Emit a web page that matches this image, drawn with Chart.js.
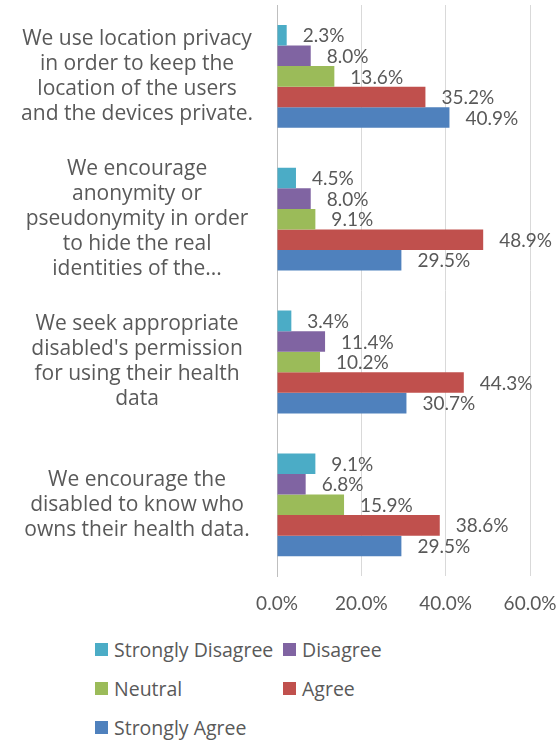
<!DOCTYPE html>
<html lang="en">
<head>
  <meta charset="UTF-8" />
  <title>Privacy practices survey</title>
  <script src="https://cdn.jsdelivr.net/npm/chart.js"></script>
  <style>
    * { box-sizing: border-box; }
    body { margin: 0; background: #fff; font-family: 'Open Sans', sans-serif; }
    .wrap { position: relative; width: 559px; height: 740px; }
    #chart { position: absolute; top: 0; left: 0; }
    .legend {
      position: absolute;
      top: 637px; left: 95px;
      display: grid;
      grid-template-columns: 188px auto;
      row-gap: 15px;
      color: #595959;
      font-size: 19.5px;
    }
    .legend span { display: flex; align-items: center; height: 24px; white-space: nowrap; }
    .legend i { display: inline-block; width: 13px; height: 13px; margin-right: 6px; }
  </style>
</head>
<body>
  <div class="wrap">
    <canvas id="chart" width="559" height="631"></canvas>
    <div class="legend" id="legend"></div>
  </div>

  <script>
    // statements (wrapped like the original)
    const statements = [
      ['We use location privacy', 'in order to keep the', 'location of the users', 'and the devices private.'],
      ['We encourage', 'anonymity or', 'pseudonymity in order', 'to hide the real', 'identities of the...'],
      ["We seek appropriate", "disabled's permission", 'for using their health', 'data'],
      ['We encourage the', 'disabled to know who', 'owns their health data.']
    ];
    const seriesNames = ['Strongly Disagree', 'Disagree', 'Neutral', 'Agree', 'Strongly Agree'];
    const seriesColors = ['#4BACC6', '#8064A2', '#9BBB59', '#C0504D', '#4F81BD'];

    // percent per statement
    const stronglyDisagree = [2.3, 4.5, 3.4, 9.1];
    const disagree = [8.0, 8.0, 11.4, 6.8];
    const neutral = [13.6, 9.1, 10.2, 15.9];
    const agree = [35.2, 48.9, 44.3, 38.6];
    const stronglyAgree = [40.9, 29.5, 30.7, 29.5];
    const xTicks = [0, 20, 40, 60];

    const values = [stronglyDisagree, disagree, neutral, agree, stronglyAgree];
    const textColor = '#595959';

    // value labels just past the bar ends
    const barLabels = {
      id: 'barLabels',
      afterDatasetsDraw(chart) {
        const ctx = chart.ctx;
        ctx.save();
        ctx.font = '19px Lato, sans-serif';
        ctx.fillStyle = textColor;
        ctx.textAlign = 'left';
        ctx.textBaseline = 'middle';
        chart.data.datasets.forEach((ds, i) => {
          chart.getDatasetMeta(i).data.forEach((bar, j) => {
            ctx.fillText(ds.data[j].toFixed(1) + '%', bar.x + 16, bar.y + 1);
          });
        });
        ctx.restore();
      }
    };

    new Chart(document.getElementById('chart'), {
      type: 'bar',
      data: {
        labels: statements,
        datasets: seriesNames.map((name, i) => ({
          label: name,
          data: values[i],
          backgroundColor: seriesColors[i],
          categoryPercentage: 0.72,
          barPercentage: 1
        }))
      },
      options: {
        indexAxis: 'y',
        responsive: false,
        animation: false,
        layout: { padding: { top: 5, right: 29, left: 0, bottom: 0 } },
        plugins: { legend: { display: false }, tooltip: { enabled: false } },
        scales: {
          x: {
            min: 0, max: 60,
            afterBuildTicks(axis) { axis.ticks = xTicks.map(v => ({ value: v })); },
            afterFit(axis) {
              axis.paddingLeft = 0;
              axis.paddingRight = 0;
            },
            grid: { color: '#D9D9D9', drawTicks: false },
            border: { display: false },
            ticks: {
              padding: 16,
              color: textColor,
              font: { family: 'Lato, sans-serif', size: 19 },
              callback: v => v.toFixed(1) + '%'
            }
          },
          y: {
            afterFit(axis) {
              axis.width = 277;
              axis.paddingTop = 0;
              axis.paddingBottom = 0;
            },
            grid: { display: false, drawTicks: false },
            border: { color: '#BFBFBF' },
            ticks: {
              padding: 24,
              crossAlign: 'center',
              color: textColor,
              font: { family: "'Open Sans', sans-serif", size: 21, lineHeight: 1.19 }
            }
          }
        }
      },
      plugins: [barLabels]
    });

    // legend laid out in two columns like the original
    document.getElementById('legend').innerHTML = seriesNames
      .map((n, i) => '<span><i style="background:' + seriesColors[i] + '"></i>' + n + '</span>')
      .join('');
  </script>
</body>
</html>
